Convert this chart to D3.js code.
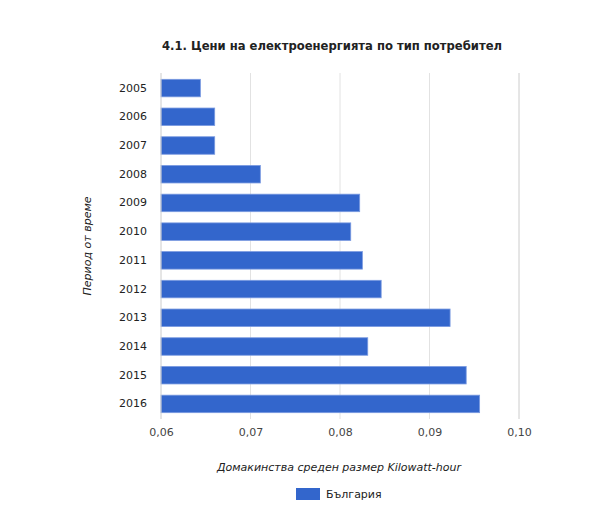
<!DOCTYPE html>
<html>
<head>
<meta charset="utf-8">
<script src="https://cdn.jsdelivr.net/npm/d3@7"></script>
<style>
  body { margin: 0; background: #fff; }
  text { font-family: "DejaVu Sans", Verdana, sans-serif; }
</style>
</head>
<body>
<script>
var years = ["2005", "2006", "2007", "2008", "2009", "2010", "2011", "2012", "2013", "2014", "2015", "2016"];
var prices = [0.0644, 0.0660, 0.0660, 0.0711, 0.0822, 0.0812, 0.0825, 0.0846, 0.0923, 0.0831, 0.0941, 0.0956];
var xTicks = [0.06, 0.07, 0.08, 0.09, 0.10];
var seriesName = "България";

var width = 601, height = 527;
var margin = { top: 73, left: 161, right: 82, bottom: 108 };

var svg = d3.select("body").append("svg")
  .attr("width", width).attr("height", height);

var x = d3.scaleLinear().domain([0.06, 0.10])
  .range([margin.left, width - margin.right]);
var y = d3.scaleBand().domain(years)
  .range([margin.top, height - margin.bottom])
  .paddingInner(0.39).paddingOuter(0.22);

// title
svg.append("text")
  .attr("x", 332).attr("y", 50)
  .attr("text-anchor", "middle")
  .style("font-size", "11.6px").style("font-weight", "bold").style("fill", "#222")
  .text("4.1. Цени на електроенергията по тип потребител");

// gridlines
svg.selectAll("line.grid").data(xTicks.slice(1))
  .enter().append("line")
  .attr("class", "grid")
  .attr("x1", function (d) { return x(d); })
  .attr("x2", function (d) { return x(d); })
  .attr("y1", margin.top).attr("y2", height - margin.bottom)
  .style("stroke", function (d, i) { return i == xTicks.length - 2 ? "#ccc" : "#e2e2e2"; })
  .style("stroke-width", 1);

// bars
svg.selectAll("rect.bar").data(prices)
  .enter().append("rect")
  .attr("class", "bar")
  .attr("x", x(0.06))
  .attr("y", function (d, i) { return y(years[i]); })
  .attr("width", function (d) { return x(d) - x(0.06); })
  .attr("height", y.bandwidth())
  .style("fill", "#3366cc")
  .style("stroke", "#7a9ae0").style("stroke-width", 0.8);

// baseline
svg.append("line")
  .attr("x1", x(0.06)).attr("x2", x(0.06))
  .attr("y1", margin.top).attr("y2", height - margin.bottom)
  .style("stroke", "#ccc");

// x axis
var xAxis = d3.axisBottom(x).tickValues(xTicks)
  .tickFormat(function (d) { return d3.format(".2f")(d).replace(".", ","); })
  .tickSize(0).tickPadding(9);
var gx = svg.append("g")
  .attr("transform", "translate(0," + (height - margin.bottom) + ")")
  .call(xAxis);
gx.select(".domain").remove();
gx.selectAll("text").style("font-size", "11px").style("fill", "#444")
  .style("font-family", "DejaVu Sans");

// y axis
var yAxis = d3.axisLeft(y).tickSize(0).tickPadding(14);
var gy = svg.append("g")
  .attr("transform", "translate(" + margin.left + ",0)")
  .call(yAxis);
gy.select(".domain").remove();
gy.selectAll("text").style("font-size", "11px").style("fill", "#222")
  .style("font-family", "DejaVu Sans");

// axis titles
svg.append("text")
  .attr("x", 339).attr("y", 471)
  .attr("text-anchor", "middle")
  .style("font-size", "11px").style("font-style", "italic").style("fill", "#222")
  .text("Домакинства среден размер Kilowatt-hour");

svg.append("text")
  .attr("transform", "translate(91,246) rotate(-90)")
  .attr("text-anchor", "middle")
  .style("font-size", "11px").style("font-style", "italic").style("fill", "#222")
  .text("Период от време");

// legend
var legend = svg.append("g").attr("transform", "translate(296,488)");
legend.append("rect")
  .attr("width", 24).attr("height", 12)
  .style("fill", "#3366cc");
legend.append("text")
  .attr("x", 30).attr("y", 10)
  .style("font-size", "11px").style("fill", "#222")
  .text(seriesName);
</script>
</body>
</html>
